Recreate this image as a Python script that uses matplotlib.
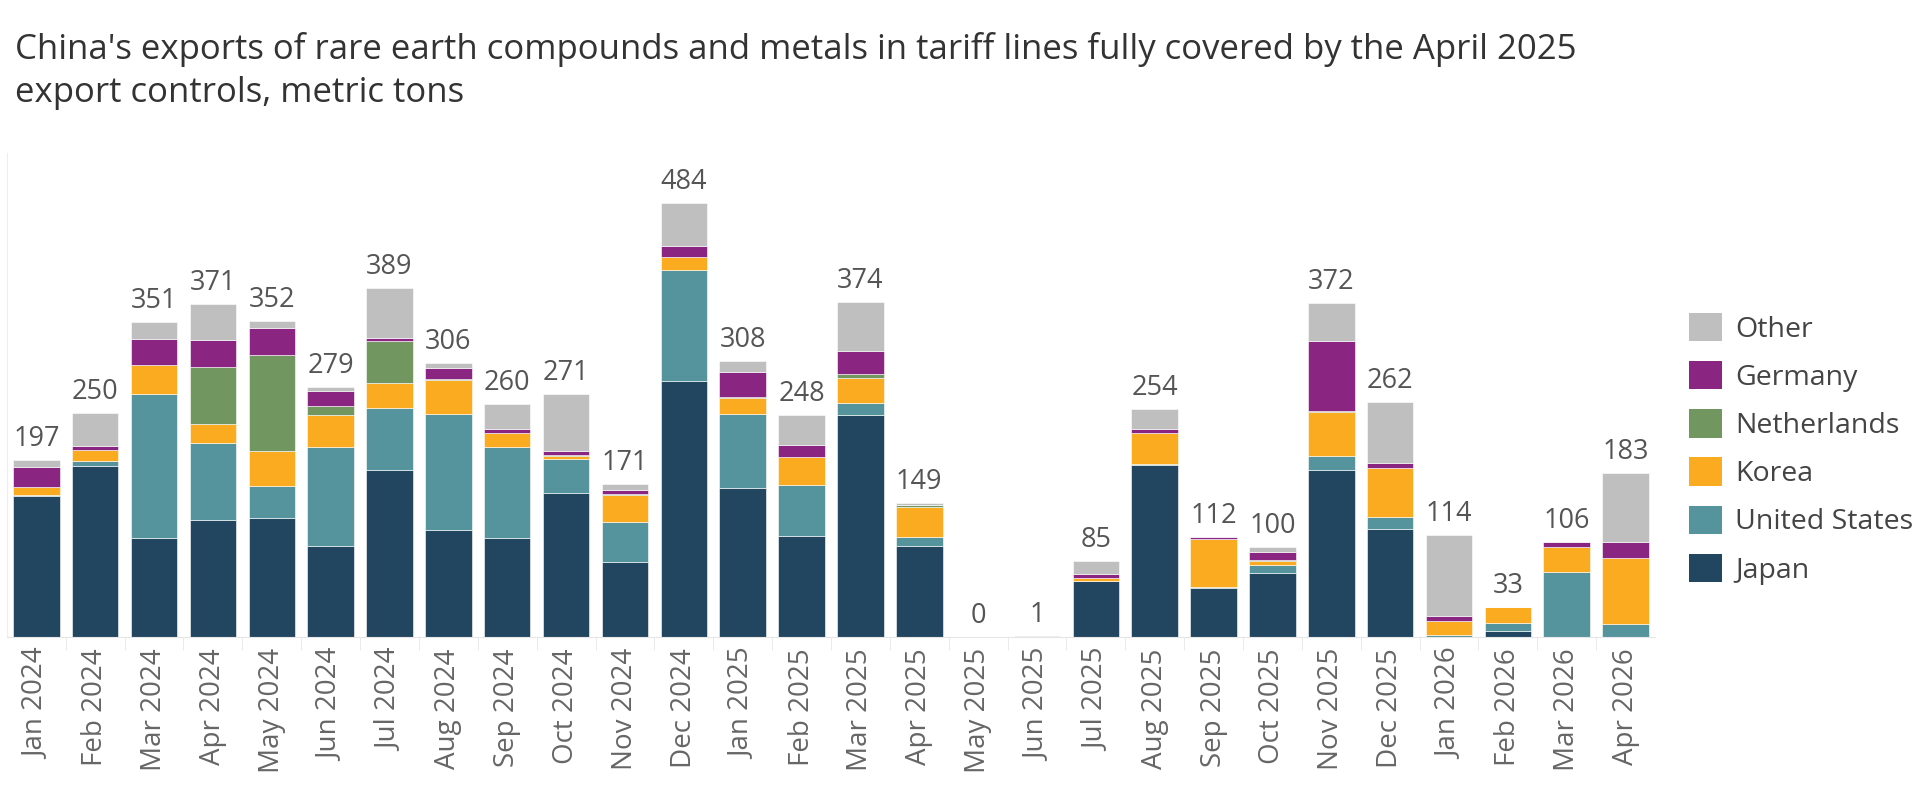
import numpy as np
import matplotlib.pyplot as plt
from matplotlib.patches import Patch

plt.rcParams["font.family"] = ["Open Sans", "DejaVu Sans"]

# --- Data (metric tons) ---------------------------------------------------
months = [
    "Jan 2024", "Feb 2024", "Mar 2024", "Apr 2024", "May 2024", "Jun 2024",
    "Jul 2024", "Aug 2024", "Sep 2024", "Oct 2024", "Nov 2024", "Dec 2024",
    "Jan 2025", "Feb 2025", "Mar 2025", "Apr 2025", "May 2025", "Jun 2025",
    "Jul 2025", "Aug 2025", "Sep 2025", "Oct 2025", "Nov 2025", "Dec 2025",
    "Jan 2026", "Feb 2026", "Mar 2026", "Apr 2026",
]
japan = [157, 191, 110, 131, 133, 102, 186, 119, 110, 161, 84, 285,
         166, 113, 248, 102, 0, 0, 62, 192, 55, 71, 186, 120,
         0, 7, 0, 0]
united_states = [1, 5, 161, 85, 35, 110, 69, 130, 102, 37, 44, 124,
                 83, 57, 13, 10, 0, 0, 1, 1, 1, 9, 16, 14,
                 2, 9, 73, 14]
korea = [9, 13, 32, 22, 40, 36, 28, 38, 16, 4, 30, 15,
         18, 31, 28, 33, 0, 0, 3, 35, 53, 5, 49, 54,
         16, 17, 27, 74]
netherlands = [0, 0, 0, 63, 106, 10, 47, 1, 0, 1, 1, 0,
               1, 0, 4, 2, 0, 0, 0, 0, 0, 1, 1, 0,
               0, 0, 0, 0]
germany = [23, 4, 29, 30, 31, 16, 4, 12, 4, 5, 5, 12,
           27, 13, 26, 0, 0, 0, 4, 4, 3, 9, 78, 6,
           5, 0, 6, 18]
other = [7, 37, 19, 40, 7, 5, 55, 6, 28, 63, 7, 48,
         13, 34, 55, 2, 0, 1, 15, 22, 0, 5, 42, 68,
         91, 0, 0, 77]
totals = [197, 250, 351, 371, 352, 279, 389, 306, 260, 271, 171, 484,
          308, 248, 374, 149, 0, 1, 85, 254, 112, 100, 372, 262,
          114, 33, 106, 183]

series = [
    ("Japan", japan, "#22465f"),
    ("United States", united_states, "#56949d"),
    ("Korea", korea, "#fbab1f"),
    ("Netherlands", netherlands, "#719660"),
    ("Germany", germany, "#8a2681"),
    ("Other", other, "#bfbfbf"),
]

# --- Plot -----------------------------------------------------------------
fig = plt.figure(figsize=(19.2, 8.08), dpi=100)
ax = fig.add_axes([0.0036, 0.2116, 0.8584, 0.5993])

x = np.arange(len(months))
bottom = np.zeros(len(months))
for name, vals, color in series:
    vals = np.asarray(vals, dtype=float)
    ax.bar(x, vals, width=0.79, bottom=bottom, color=color, label=name,
           edgecolor="white", linewidth=0.4)
    bottom += vals

# totals above each stack
for xi, tot in zip(x, totals):
    ax.annotate(f"{tot}", (xi, tot), xytext=(0, 5), textcoords="offset points",
                ha="center", va="bottom", fontsize=19.5, color="#555555")

ax.set_xlim(-0.5, len(months) - 0.5)
ax.set_ylim(0, 540)
ax.set_yticks([])
ax.set_xticks(x)
ax.set_xticklabels(months, rotation=90, fontsize=20, color="#666666")
ax.tick_params(axis="x", length=0, pad=8)
ax.set_xticks(x[:-1] + 0.5, minor=True)
ax.tick_params(axis="x", which="minor", length=9, color="#e6e6e6")

for side in ["top", "right"]:
    ax.spines[side].set_visible(False)
ax.spines["left"].set_color("#eeeeee")
ax.spines["bottom"].set_color("#e6e6e6")

handles = [Patch(facecolor=c, label=n) for n, _, c in series][::-1]
fig.legend(handles=handles, loc="upper left", bbox_to_anchor=(0.8797, 0.613),
           frameon=False, fontsize=20.5, handlelength=1.16, handleheight=1.16,
           handletextpad=0.45, labelspacing=0.61, labelcolor="#444444",
           borderaxespad=0, borderpad=0)

fig.text(0.008, 0.961,
         "China's exports of rare earth compounds and metals in tariff lines "
         "fully covered by the April 2025\nexport controls, metric tons",
         ha="left", va="top", fontsize=25, color="#333333", linespacing=1.375)

fig.savefig("out.png", dpi=100)
